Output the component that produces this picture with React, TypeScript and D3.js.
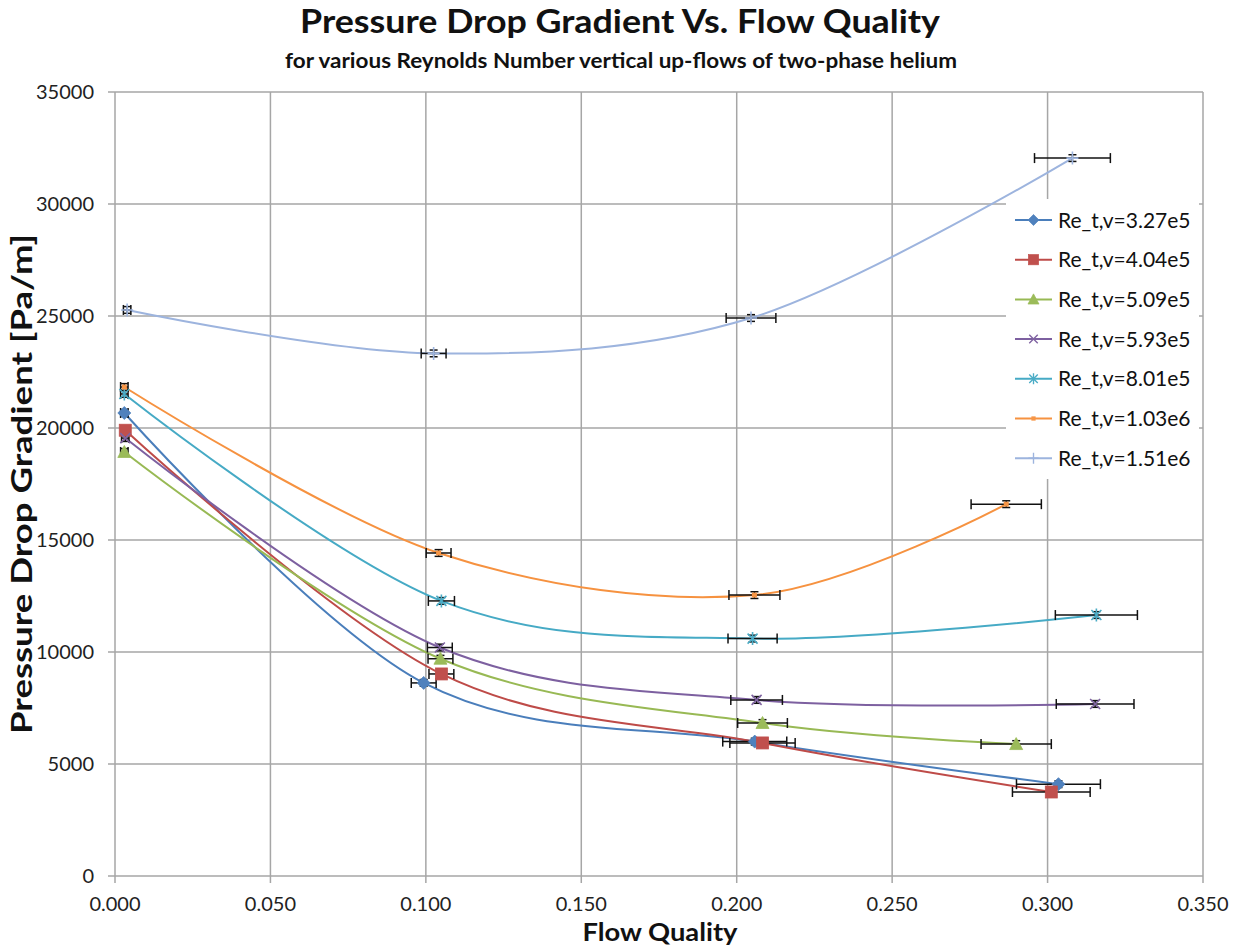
import React from 'react';
import * as d3 from 'd3';

const seriesNames = [
  'Re_t,v=3.27e5',
  'Re_t,v=4.04e5',
  'Re_t,v=5.09e5',
  'Re_t,v=5.93e5',
  'Re_t,v=8.01e5',
  'Re_t,v=1.03e6',
  'Re_t,v=1.51e6',
];
const seriesColors = ['#4A7EBB', '#BE4B48', '#98B954', '#7D60A0', '#46AAC5', '#F69240', '#9DB4DE'];
const markerColors = ['#4F81BD', '#C0504D', '#9BBB59', '#8064A2', '#4BACC6', '#F79646', '#9DB4DE'];
const markerTypes = ['diamond', 'square', 'triangle', 'x', 'asterisk', 'dot', 'plus'];

const flowQuality = [
  [0.003, 0.0993, 0.2058, 0.3035],
  [0.0033, 0.105, 0.2083, 0.3012],
  [0.003, 0.1047, 0.2083, 0.2899],
  [0.0033, 0.1045, 0.2064, 0.3153],
  [0.003, 0.105, 0.2051, 0.3157],
  [0.003, 0.1041, 0.2057, 0.2867],
  [0.0039, 0.1025, 0.2046, 0.308],
];
const pressureDrop = [
  [20670, 8620, 6000, 4100],
  [19900, 9020, 5940, 3750],
  [18930, 9700, 6830, 5890],
  [19550, 10200, 7860, 7680],
  [21520, 12280, 10600, 11650],
  [21830, 14420, 12540, 16600],
  [25270, 23330, 24910, 32050],
];
const xErrors = [
  [0.0012, 0.004, 0.0103, 0.0135],
  [0.0012, 0.004, 0.0105, 0.0125],
  [0.0012, 0.004, 0.008, 0.0113],
  [0.0012, 0.004, 0.0083, 0.0125],
  [0.0012, 0.0042, 0.0079, 0.0132],
  [0.0012, 0.004, 0.0082, 0.0113],
  [0.0012, 0.004, 0.008, 0.0122],
];
const yErrors = [
  [150, 150, 150, 150],
  [150, 150, 150, 150],
  [150, 150, 150, 150],
  [150, 150, 150, 150],
  [150, 150, 150, 150],
  [150, 150, 150, 150],
  [150, 150, 150, 150],
];
const xTicks = [0, 0.05, 0.1, 0.15, 0.2, 0.25, 0.3, 0.35];
const yTicks = [0, 5000, 10000, 15000, 20000, 25000, 30000, 35000];

const W = 1241;
const H = 945;
const plot = { left: 115, right: 1203, top: 92, bottom: 876 };
const FONT = 'Lato, "Open Sans", sans-serif';

function Marker({ type, color, x, y, s = 1 }: { type: string; color: string; x: number; y: number; s?: number }) {
  const t = `translate(${x},${y}) scale(${s})`;
  switch (type) {
    case 'diamond':
      return <path transform={t} d="M0,-6.5L6.5,0L0,6.5L-6.5,0Z" fill={color} stroke={color} strokeWidth={0.8} />;
    case 'square':
      return <rect transform={t} x={-6} y={-6} width={12} height={12} fill={color} stroke={color} strokeWidth={0.8} />;
    case 'triangle':
      return <path transform={t} d="M0,-6.5L6.5,5.5L-6.5,5.5Z" fill={color} stroke={color} strokeWidth={0.8} />;
    case 'x':
      return <path transform={t} d="M-5,-5L5,5M-5,5L5,-5" fill="none" stroke={color} strokeWidth={1.6} />;
    case 'asterisk':
      return <path transform={t} d="M-5,-5L5,5M-5,5L5,-5M0,-6.5L0,6.5" fill="none" stroke={color} strokeWidth={1.6} />;
    case 'dot':
      return <rect transform={t} x={-2.5} y={-2.5} width={5} height={5} fill={color} />;
    case 'plus':
      return <path transform={t} d="M-6,0L6,0M0,-6.5L0,6.5" fill="none" stroke={color} strokeWidth={1.6} />;
    default:
      return null;
  }
}

export default function App() {
  const x = d3.scaleLinear().domain([0, 0.35]).range([plot.left, plot.right]);
  const y = d3.scaleLinear().domain([0, 35000]).range([plot.bottom, plot.top]);
  const line = d3
    .line<[number, number]>()
    .x((d) => x(d[0]))
    .y((d) => y(d[1]))
    .curve(d3.curveCardinal.tension(0));

  const gridColor = '#A6A6A6';
  const legend = { left: 1006, right: 1199, top: 199, bottom: 479 };

  return (
    <svg width={W} height={H} style={{ position: 'absolute', left: 0, top: 0, background: '#fff' }} fontFamily={FONT}>
      <rect x={0} y={0} width={W} height={H} fill="#fff" />
      {/* grid */}
      {yTicks.map((t) => (
        <line key={'gy' + t} x1={plot.left - 7} x2={plot.right} y1={y(t)} y2={y(t)} stroke={gridColor} strokeWidth={1.5} />
      ))}
      {xTicks.map((t) => (
        <line key={'gx' + t} x1={x(t)} x2={x(t)} y1={plot.top} y2={plot.bottom + 7} stroke={gridColor} strokeWidth={1.5} />
      ))}
      {/* tick labels */}
      {yTicks.map((t) => (
        <text key={'ly' + t} x={94} y={y(t)} dy="0.36em" textAnchor="end" fontSize={20} fill="#222">
          {t}
        </text>
      ))}
      {xTicks.map((t) => (
        <text key={'lx' + t} x={x(t)} y={911} textAnchor="middle" fontSize={20} fill="#222">
          {d3.format('.3f')(t)}
        </text>
      ))}
      {/* series lines */}
      {seriesNames.map((name, i) => {
        const pts: [number, number][] = flowQuality[i].map((v, j) => [v, pressureDrop[i][j]]);
        return <path key={'l' + i} d={line(pts) || ''} fill="none" stroke={seriesColors[i]} strokeWidth={2} />;
      })}
      {/* error bars */}
      {seriesNames.map((name, i) =>
        flowQuality[i].map((v, j) => {
          const px = x(v);
          const py = y(pressureDrop[i][j]);
          const x0 = x(v - xErrors[i][j]);
          const x1 = x(v + xErrors[i][j]);
          const y0 = y(pressureDrop[i][j] - yErrors[i][j]);
          const y1 = y(pressureDrop[i][j] + yErrors[i][j]);
          return (
            <g key={'e' + i + '-' + j} stroke="#111" strokeWidth={1.5}>
              <line x1={x0} x2={x1} y1={py} y2={py} />
              <line x1={x0} x2={x0} y1={py - 5} y2={py + 5} />
              <line x1={x1} x2={x1} y1={py - 5} y2={py + 5} />
              <line x1={px} x2={px} y1={y0} y2={y1} />
              <line x1={px - 4} x2={px + 4} y1={y0} y2={y0} />
              <line x1={px - 4} x2={px + 4} y1={y1} y2={y1} />
            </g>
          );
        })
      )}
      {/* markers */}
      {seriesNames.map((name, i) =>
        flowQuality[i].map((v, j) => (
          <Marker key={'m' + i + '-' + j} type={markerTypes[i]} color={markerColors[i]} x={x(v)} y={y(pressureDrop[i][j])} />
        ))
      )}
      {/* legend */}
      <rect x={legend.left} y={legend.top} width={legend.right - legend.left} height={legend.bottom - legend.top} fill="#fff" />
      {seriesNames.map((name, i) => {
        const ly = 220 + i * 39.7;
        return (
          <g key={'lg' + i}>
            <line x1={1015} x2={1052} y1={ly} y2={ly} stroke={seriesColors[i]} strokeWidth={2} />
            <Marker type={markerTypes[i]} color={markerColors[i]} x={1033.5} y={ly} s={0.85} />
            <text x={1058} y={ly} dy="0.36em" fontSize={21} fill="#111">
              {name}
            </text>
          </g>
        );
      })}
      {/* titles */}
      <text x={620} y={33} textAnchor="middle" fontSize={33} fontWeight="bold" fill="#111" textLength={640} lengthAdjust="spacingAndGlyphs">
        Pressure Drop Gradient Vs. Flow Quality
      </text>
      <text x={621} y={68} textAnchor="middle" fontSize={20} fontWeight="bold" fill="#111" textLength={672} lengthAdjust="spacingAndGlyphs">
        for various Reynolds Number vertical up-flows of two-phase helium
      </text>
      <text x={660} y={941} textAnchor="middle" fontSize={25} fontWeight="bold" fill="#111" textLength={155} lengthAdjust="spacingAndGlyphs">
        Flow Quality
      </text>
      <text
        transform={`translate(32,${(plot.top + plot.bottom) / 2}) rotate(-90)`}
        textAnchor="middle"
        fontSize={29}
        fontWeight="bold"
        fill="#111"
        textLength={500}
        lengthAdjust="spacingAndGlyphs"
      >
        Pressure Drop Gradient [Pa/m]
      </text>
    </svg>
  );
}
